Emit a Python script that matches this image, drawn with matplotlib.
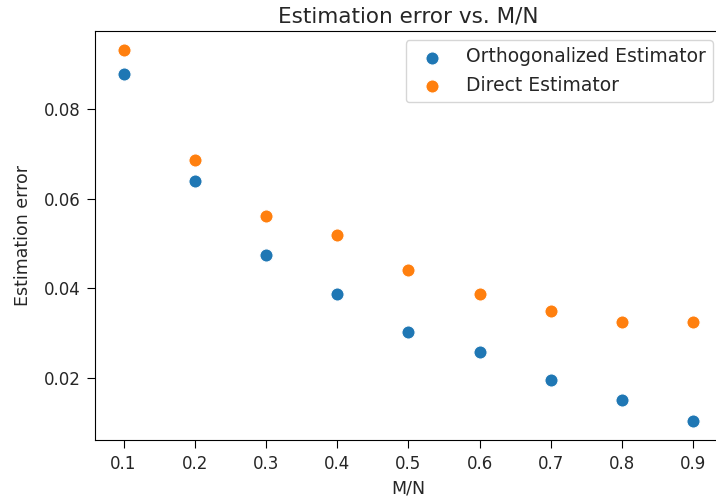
import matplotlib
matplotlib.use("Agg")
import matplotlib.pyplot as plt

# error of the two estimators for each sampling ratio M/N
ratios = [0.1, 0.2, 0.3, 0.4, 0.5, 0.6, 0.7, 0.8, 0.9]
err_orth = [0.0880, 0.0639, 0.0474, 0.0387, 0.0303, 0.0257, 0.0194, 0.0149, 0.0102]
err_direct = [0.0934, 0.0686, 0.0561, 0.0520, 0.0440, 0.0387, 0.0349, 0.0324, 0.0324]

fig = plt.figure(figsize=(7.16, 4.99), dpi=100)
# right spine sits just past the edge of the canvas
ax = fig.add_axes([95/716, 59/499, 627/716, 409/499])

ax.scatter(ratios, err_orth, s=90, color='#1f77b4', edgecolor='white',
           linewidth=0.8, label='Orthogonalized Estimator')
ax.scatter(ratios, err_direct, s=90, color='#ff7f0e', edgecolor='white',
           linewidth=0.8, label='Direct Estimator')

ax.set_xticks([0.1, 0.2, 0.3, 0.4, 0.5, 0.6, 0.7, 0.8, 0.9])
ax.set_yticks([0.02, 0.04, 0.06, 0.08])
ax.tick_params(labelsize=12, labelcolor='#262626', length=5.5, pad=5)
ax.set_xlabel('M/N', fontsize=12.5, color='#262626', labelpad=5)
ax.set_ylabel('Estimation error', fontsize=12.5, color='#262626', labelpad=8)
ax.set_title('Estimation error vs. M/N', fontsize=15.5, color='#262626')
leg = ax.legend(loc='upper right', fontsize=13.5,
                bbox_to_anchor=(618/627, 1 - 9/409), borderaxespad=0)
for t in leg.get_texts():
    t.set_color('#262626')

fig.savefig('out.png', dpi=100)
